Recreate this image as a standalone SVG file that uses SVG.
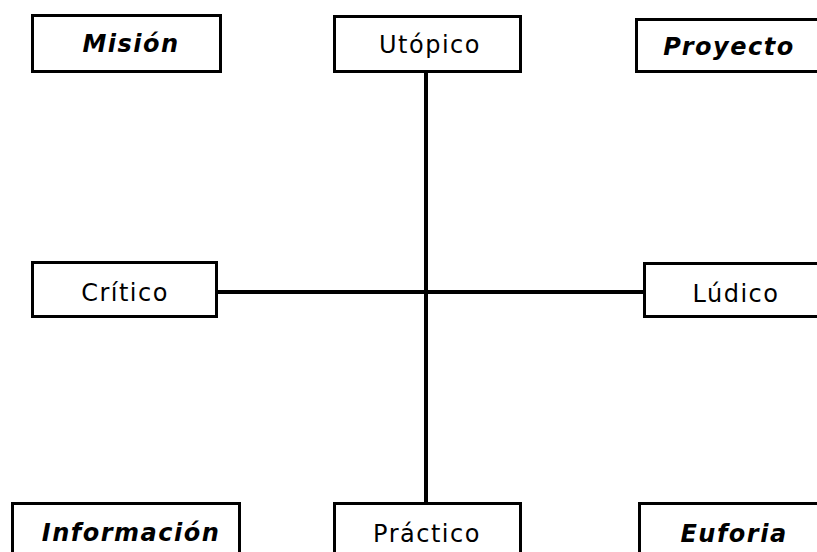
<svg xmlns="http://www.w3.org/2000/svg" width="817" height="552" viewBox="0 0 817 552">
  <style>
    .box { fill: #ffffff; stroke: #000000; stroke-width: 3; }
    .link { stroke: #000000; stroke-width: 4; fill: none; }
    .axis { font-family: "DejaVu Sans", Verdana, sans-serif; font-size: 24px; letter-spacing: 1.5px; fill: #000000; text-anchor: middle; }
    .corner { font-family: "DejaVu Sans", Verdana, sans-serif; font-size: 24px; font-weight: bold; font-style: italic; letter-spacing: 1.5px; fill: #000000; text-anchor: middle; }
  </style>

  <!-- axes -->
  <g id="connectors">
    <line class="link" x1="426" y1="72" x2="426" y2="503"/>
    <line class="link" x1="217" y1="292" x2="645" y2="292"/>
  </g>

  <!-- corner concepts -->
  <g id="mision">
    <rect class="box" x="32.5" y="15.5" width="188" height="56"/>
    <text class="corner" x="131" y="52">Misión</text>
  </g>
  <g id="proyecto">
    <rect class="box" x="636.5" y="19.5" width="190" height="52"/>
    <text class="corner" x="729" y="55">Proyecto</text>
  </g>
  <g id="informacion">
    <rect class="box" x="12.5" y="503.5" width="227" height="60"/>
    <text class="corner" x="131" y="541">Información</text>
  </g>
  <g id="euforia">
    <rect class="box" x="639.5" y="503.5" width="190" height="60"/>
    <text class="corner" x="734" y="542">Euforia</text>
  </g>

  <!-- axis poles -->
  <g id="utopico">
    <rect class="box" x="334.5" y="16.5" width="186" height="55"/>
    <text class="axis" x="430" y="53">Utópico</text>
  </g>
  <g id="practico">
    <rect class="box" x="334.5" y="503.5" width="186" height="60"/>
    <text class="axis" x="427" y="542">Práctico</text>
  </g>
  <g id="critico">
    <rect class="box" x="32.5" y="262.5" width="184" height="54"/>
    <text class="axis" x="125" y="301">Crítico</text>
  </g>
  <g id="ludico">
    <rect class="box" x="644.5" y="263.5" width="180" height="53"/>
    <text class="axis" x="736" y="302">Lúdico</text>
  </g>
</svg>
